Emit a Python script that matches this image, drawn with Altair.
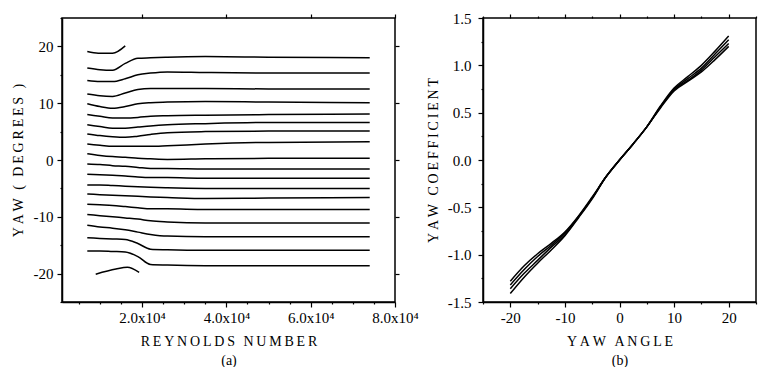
import altair as alt
import pandas as pd

FONT = "Liberation Serif"
TS = "\u2009"  # thin space for letter spacing

# ---------------- Panel (a): yaw vs Reynolds number ----------------
re_grid = [7000, 10000, 13000, 16000, 19000, 22000, 26000, 35000, 50000, 74000]

re_short_top = [7000, 9600, 13000, 16000]
yaw_01 = [19.1, 18.8, 18.8, 20.1]
yaw_02 = [16.2, 15.9, 15.8, 17.0, 17.9, 18.0, 18.1, 18.2, 18.1, 18.0]
yaw_03 = [14.0, 13.8, 13.8, 14.3, 15.0, 15.3, 15.5, 15.4, 15.3, 15.3]
yaw_04 = [11.6, 11.3, 11.2, 11.8, 12.4, 12.6, 12.6, 12.6, 12.5, 12.5]
yaw_05 = [9.9, 9.4, 9.1, 9.4, 9.9, 10.1, 10.2, 10.3, 10.2, 10.1]
yaw_06 = [8.0, 7.7, 7.4, 7.4, 7.5, 7.7, 7.8, 7.9, 8.0, 8.1]
yaw_07 = [6.2, 5.9, 5.6, 5.6, 5.8, 6.0, 6.2, 6.4, 6.6, 6.6]
yaw_08 = [4.6, 4.3, 4.1, 4.0, 4.2, 4.5, 4.8, 5.0, 5.1, 5.1]
yaw_09 = [2.8, 2.6, 2.4, 2.4, 2.4, 2.4, 2.5, 2.8, 3.1, 3.2]
yaw_10 = [1.1, 0.8, 0.6, 0.5, 0.3, 0.2, 0.1, 0.2, 0.3, 0.3]
yaw_11 = [-0.7, -0.8, -1.0, -1.1, -1.3, -1.5, -1.5, -1.6, -1.6, -1.6]
yaw_12 = [-2.5, -2.6, -2.7, -2.8, -3.0, -3.1, -3.1, -3.2, -3.2, -3.2]
yaw_13 = [-4.4, -4.4, -4.5, -4.6, -4.7, -4.8, -4.9, -5.0, -5.0, -5.0]
yaw_14 = [-6.0, -6.1, -6.2, -6.3, -6.4, -6.5, -6.6, -6.8, -6.7, -6.6]
yaw_15 = [-7.8, -7.9, -8.0, -8.2, -8.4, -8.6, -8.6, -8.7, -8.7, -8.7]
yaw_16 = [-9.6, -9.8, -10.0, -10.2, -10.4, -10.7, -10.9, -11.1, -11.1, -11.1]
yaw_17 = [-11.5, -11.8, -12.0, -12.3, -12.7, -13.1, -13.4, -13.5, -13.5, -13.5]
yaw_18 = [-13.7, -13.8, -13.9, -14.0, -14.7, -15.7, -15.8, -15.9, -15.9, -15.9]
yaw_19 = [-16.0, -16.0, -16.1, -16.2, -17.0, -18.4, -18.5, -18.6, -18.6, -18.6]
re_short_bottom = [9000, 13800, 16500, 19300]
yaw_20 = [-20.1, -19.2, -18.9, -19.8]

re_ticks = [5000, 10000, 15000, 20000, 25000, 30000, 35000, 40000, 45000, 50000,
            55000, 60000, 65000, 70000, 75000, 80000]
yaw_ticks = [-25, -20, -15, -10, -5, 0, 5, 10, 15, 20, 25]

# ---------------- Panel (b): yaw coefficient vs yaw angle ----------------
angle = [-20, -17.5, -15, -12.5, -10, -7.5, -5, -2.5, 0, 2.5, 5, 7.5, 10, 12.5, 15, 17.5, 20]
coef_1 = [-1.28, -1.12, -0.99, -0.88, -0.76, -0.59, -0.39, -0.18, 0.0, 0.17, 0.35, 0.57, 0.76, 0.88, 1.00, 1.15, 1.31]
coef_2 = [-1.32, -1.16, -1.02, -0.90, -0.77, -0.60, -0.40, -0.18, 0.0, 0.17, 0.35, 0.56, 0.75, 0.86, 0.97, 1.12, 1.27]
coef_3 = [-1.36, -1.20, -1.06, -0.92, -0.79, -0.60, -0.40, -0.18, 0.0, 0.17, 0.35, 0.56, 0.74, 0.84, 0.95, 1.09, 1.23]
coef_4 = [-1.41, -1.24, -1.09, -0.95, -0.80, -0.61, -0.41, -0.18, 0.0, 0.17, 0.35, 0.55, 0.73, 0.83, 0.93, 1.06, 1.20]

angle_ticks = [-25, -20, -15, -10, -5, 0, 5, 10, 15, 20, 25]
coef_ticks = [-1.5, -1.25, -1.0, -0.75, -0.5, -0.25, 0.0, 0.25, 0.5, 0.75, 1.0, 1.25, 1.5]

# ---------------- build tables ----------------
series_a = [(re_short_top, yaw_01)] + [
    (re_grid, s) for s in [yaw_02, yaw_03, yaw_04, yaw_05, yaw_06, yaw_07, yaw_08, yaw_09,
                           yaw_10, yaw_11, yaw_12, yaw_13, yaw_14, yaw_15, yaw_16, yaw_17,
                           yaw_18, yaw_19]
] + [(re_short_bottom, yaw_20)]
rows_a = []
for k, (xs, ys) in enumerate(series_a):
    for i, (x, y) in enumerate(zip(xs, ys)):
        rows_a.append({"re": x, "yaw": y, "line": k, "ord": i})
df_a = pd.DataFrame(rows_a)

rows_b = []
for k, ys in enumerate([coef_1, coef_2, coef_3, coef_4]):
    for i, (x, y) in enumerate(zip(angle, ys)):
        rows_b.append({"ang": x, "coef": y, "line": k, "ord": i})
df_b = pd.DataFrame(rows_b)


def spaced(text):
    words = text.split(" ")
    return (TS * 3).join(TS.join(w) for w in words)


def tick_size(test, major, minor):
    return {"condition": {"test": test, "value": major}, "value": minor}


line_style = dict(color="black", strokeWidth=1.5, interpolate="monotone")

# ---- panel (a)
xa_scale = alt.Scale(domain=[1000, 80000], nice=False, zero=False)
ya_scale = alt.Scale(domain=[-25, 25], nice=False)
re_major = "datum.value % 20000 === 0"
yaw_major = "datum.value % 10 === 0 && abs(datum.value) < 25"

a_lines = alt.Chart(df_a).mark_line(**line_style).encode(
    x=alt.X("re:Q", scale=xa_scale,
            axis=alt.Axis(values=re_ticks,
                          labelExpr=f"{re_major} ? format(datum.value/10000, '.1f') + 'x10\u2074' : ''",
                          title=[spaced("REYNOLDS NUMBER"), "(a)"],
                          tickSize=tick_size(re_major, 5, 2),
                          labelPadding=3, titlePadding=9,
                          labelFlush=False, labelOverlap=False)),
    y=alt.Y("yaw:Q", scale=ya_scale,
            axis=alt.Axis(values=yaw_ticks,
                          labelExpr=f"{yaw_major} ? replace(datum.label, '\u2212', '-') : ''",
                          title=spaced("YAW ( DEGREES )"),
                          tickSize=tick_size(yaw_major, 5, 2),
                          labelPadding=4, titlePadding=8,
                          labelFlush=False, labelOverlap=False)),
    detail="line:N",
    order="ord:Q",
)
a_mirror = alt.Chart(df_a).mark_line(strokeOpacity=0).encode(
    x=alt.X("re:Q", scale=xa_scale,
            axis=alt.Axis(orient="top", values=[20000, 40000, 60000, 80000],
                          labels=False, title=None, tickSize=4, domain=False)),
    y=alt.Y("yaw:Q", scale=ya_scale,
            axis=alt.Axis(orient="right", values=[-20, -10, 0, 10, 20],
                          labels=False, title=None, tickSize=4, domain=False)),
    detail="line:N",
    order="ord:Q",
)
panel_a = alt.layer(a_lines, a_mirror).resolve_axis(x="independent", y="independent").properties(
    width=333, height=284)

# ---- panel (b)
xb_scale = alt.Scale(domain=[-25, 25], nice=False)
yb_scale = alt.Scale(domain=[-1.5, 1.5], nice=False)
ang_major = "datum.value % 10 === 0"
coef_major = "abs(datum.value * 2 - round(datum.value * 2)) < 0.001"

b_lines = alt.Chart(df_b).mark_line(**line_style).encode(
    x=alt.X("ang:Q", scale=xb_scale,
            axis=alt.Axis(values=angle_ticks,
                          labelExpr=f"{ang_major} ? replace(datum.label, '\u2212', '-') : ''",
                          title=[spaced("YAW ANGLE"), "(b)"],
                          tickSize=tick_size(ang_major, 5, 2),
                          labelPadding=3, titlePadding=9,
                          labelFlush=False, labelOverlap=False)),
    y=alt.Y("coef:Q", scale=yb_scale,
            axis=alt.Axis(values=coef_ticks,
                          labelExpr=f"{coef_major} ? replace(format(datum.value, '.1f'), '\u2212', '-') : ''",
                          title=spaced("YAW COEFFICIENT"),
                          tickSize=tick_size(coef_major, 5, 2),
                          labelPadding=7, titlePadding=7,
                          labelFlush=False, labelOverlap=False)),
    detail="line:N",
    order="ord:Q",
)
b_mirror = alt.Chart(df_b).mark_line(strokeOpacity=0).encode(
    x=alt.X("ang:Q", scale=xb_scale,
            axis=alt.Axis(orient="top", values=angle_ticks,
                          labels=False, title=None,
                          tickSize=tick_size(ang_major, 4, 2), domain=False)),
    y=alt.Y("coef:Q", scale=yb_scale, axis=None),
    detail="line:N",
    order="ord:Q",
)
panel_b = alt.layer(b_lines, b_mirror).resolve_axis(x="independent", y="independent").properties(
    width=273, height=284)

chart = alt.hconcat(panel_a, panel_b, spacing=6).properties(
    padding={"left": 10, "top": 10, "right": 0, "bottom": 0},
    background="white",
).configure_view(
    stroke="black", strokeWidth=1.5
).configure_axis(
    labelFont=FONT, titleFont=FONT, labelFontSize=15, titleFontSize=14,
    titleFontWeight="normal", labelColor="black", titleColor="black",
    domainColor="black", tickColor="black", domainWidth=1.5, tickWidth=1.2,
    grid=False, titleLineHeight=19,
)

chart.save("out.html", embed_options={"renderer": "svg", "actions": False})
